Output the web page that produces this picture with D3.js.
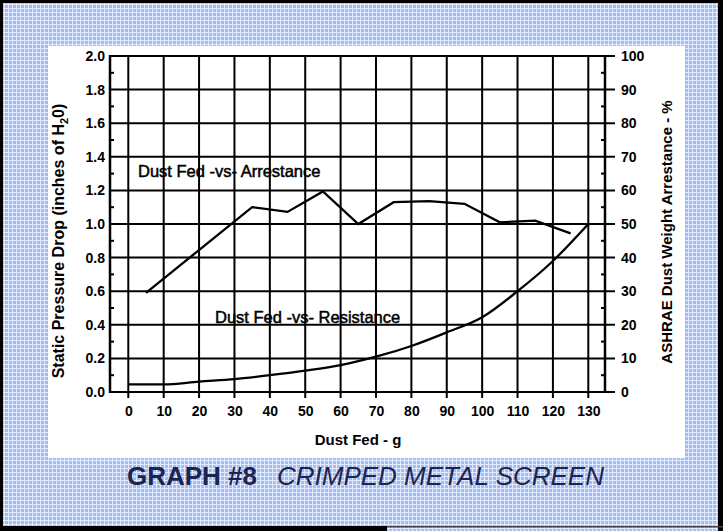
<!DOCTYPE html>
<html>
<head>
<meta charset="utf-8">
<script src="https://cdn.jsdelivr.net/npm/d3@7"></script>
<style>
  html, body { margin: 0; padding: 0; background: #fff; }
  svg { display: block; font-family: "Liberation Sans", Arial, sans-serif; }
</style>
</head>
<body>
<div id="chart"></div>
<script>
// data
const xTicks = [0, 10, 20, 30, 40, 50, 60, 70, 80, 90, 100, 110, 120, 130];
const leftTicks = [0, 0.2, 0.4, 0.6, 0.8, 1.0, 1.2, 1.4, 1.6, 1.8, 2.0];
const rightTicks = [0, 10, 20, 30, 40, 50, 60, 70, 80, 90, 100];

const resistanceFed = [0, 10, 20, 30, 40, 50, 60, 70, 80, 90, 100, 110, 120, 130];
const resistanceVals = [0.045, 0.045, 0.062, 0.077, 0.10, 0.127, 0.16, 0.21, 0.274, 0.355, 0.445, 0.60, 0.78, 1.0];

const arrestanceFed = [5, 35, 45, 55, 65, 75, 85, 95, 105, 115, 125];
const arrestanceVals = [29.5, 55, 53.6, 59.7, 50, 56.5, 56.8, 56, 50.5, 51, 47.2];

const W = 723, H = 531;
const plot = {left: 110, right: 605, top: 56, bottom: 392};

const svg = d3.select("#chart").append("svg")
    .attr("width", W)
    .attr("height", H);

// blue screened backdrop
const pat = svg.append("defs").append("pattern")
    .attr("id", "screen")
    .attr("width", 4).attr("height", 4)
    .attr("patternUnits", "userSpaceOnUse");
pat.append("rect").attr("width", 4).attr("height", 4).attr("fill", "#a4bcf5");
pat.append("rect").attr("width", 4).attr("height", 1).attr("fill", "#e2eafd");
pat.append("rect").attr("width", 1).attr("height", 4).attr("fill", "#e2eafd");

svg.append("rect").attr("width", W).attr("height", H).attr("fill", "url(#screen)");

// black frame edges
svg.append("rect").attr("x", 0).attr("y", 0).attr("width", W).attr("height", 3).attr("fill", "#000");
svg.append("rect").attr("x", 0).attr("y", 0).attr("width", 3).attr("height", H).attr("fill", "#000");
svg.append("rect").attr("x", 718).attr("y", 0).attr("width", 5).attr("height", H).attr("fill", "#000");
svg.append("rect").attr("x", 0).attr("y", 526).attr("width", 387).attr("height", 5).attr("fill", "#000");
svg.append("rect").attr("x", 387).attr("y", 526).attr("width", 336).attr("height", 1.5).attr("fill", "#444");

// white sheet
svg.append("rect")
    .attr("x", 48).attr("y", 46)
    .attr("width", 637).attr("height", 412)
    .attr("fill", "#fff");

const x = d3.scaleLinear().domain([0, 130]).range([128.3, 588.3]);
const yL = d3.scaleLinear().domain([0, 2]).range([plot.bottom, plot.top]);
const yR = d3.scaleLinear().domain([0, 100]).range([plot.bottom, plot.top]);

const g = svg.append("g");

// grid
g.selectAll(".vgrid")
    .data(xTicks)
    .join("line")
    .attr("class", "vgrid")
    .attr("x1", d => x(d)).attr("x2", d => x(d))
    .attr("y1", plot.top).attr("y2", plot.bottom + 6)
    .attr("stroke", "#000").attr("stroke-width", 2);

g.selectAll(".hgrid")
    .data(leftTicks)
    .join("line")
    .attr("class", "hgrid")
    .attr("x1", plot.left).attr("x2", plot.right + 10)
    .attr("y1", d => yL(d)).attr("y2", d => yL(d))
    .attr("stroke", "#000").attr("stroke-width", 2);

// minor ticks inside both side axes
const minors = leftTicks.slice(0, -1).map(d => d + 0.1);
g.selectAll(".minL")
    .data(minors)
    .join("line")
    .attr("class", "minL")
    .attr("x1", plot.left).attr("x2", plot.left + 4)
    .attr("y1", d => yL(d)).attr("y2", d => yL(d))
    .attr("stroke", "#000").attr("stroke-width", 2);
g.selectAll(".minR")
    .data(minors)
    .join("line")
    .attr("class", "minR")
    .attr("x1", plot.right - 4).attr("x2", plot.right)
    .attr("y1", d => yL(d)).attr("y2", d => yL(d))
    .attr("stroke", "#000").attr("stroke-width", 2);

// axis lines
g.append("line")
    .attr("x1", plot.left).attr("x2", plot.left)
    .attr("y1", plot.top - 1).attr("y2", plot.bottom + 1)
    .attr("stroke", "#000").attr("stroke-width", 2.5);
g.append("line")
    .attr("x1", plot.right).attr("x2", plot.right)
    .attr("y1", plot.top - 1).attr("y2", plot.bottom + 1)
    .attr("stroke", "#000").attr("stroke-width", 2.5);

// tick labels via d3 axes (no lines, the grid covers them)
const styleAxis = sel => {
    sel.select(".domain").remove();
    sel.selectAll("line").remove();
    sel.selectAll("text")
        .attr("fill", "#000")
        .style("font-size", "14px")
        .style("font-weight", "bold");
};

svg.append("g")
    .attr("transform", `translate(0,${plot.bottom})`)
    .call(d3.axisBottom(x).tickValues(xTicks).tickSize(6).tickPadding(8).tickFormat(d3.format("d")))
    .call(styleAxis);

svg.append("g")
    .attr("transform", `translate(${plot.left},0)`)
    .call(d3.axisLeft(yL).tickValues(leftTicks).tickSize(0).tickPadding(5).tickFormat(d3.format(".1f")))
    .call(styleAxis);

svg.append("g")
    .attr("transform", `translate(${plot.right},0)`)
    .call(d3.axisRight(yR).tickValues(rightTicks).tickSize(10).tickPadding(6).tickFormat(d3.format("d")))
    .call(styleAxis);

// curves
const resistance = resistanceFed.map((d, i) => [d, resistanceVals[i]]);
const arrestance = arrestanceFed.map((d, i) => [d, arrestanceVals[i]]);

g.append("path")
    .datum(resistance)
    .attr("fill", "none").attr("stroke", "#000").attr("stroke-width", 2.3)
    .attr("d", d3.line().x(d => x(d[0])).y(d => yL(d[1])).curve(d3.curveMonotoneX));

g.append("path")
    .datum(arrestance)
    .attr("fill", "none").attr("stroke", "#000").attr("stroke-width", 2.3)
    .attr("stroke-linejoin", "miter")
    .attr("d", d3.line().x(d => x(d[0])).y(d => yR(d[1])));

// in-plot notes
svg.selectAll(".note")
    .data([
        {x: 138, y: 177, t: "Dust Fed -vs- Arrestance"},
        {x: 215, y: 323, t: "Dust Fed -vs- Resistance"}
    ])
    .join("text")
    .attr("class", "note")
    .attr("x", d => d.x).attr("y", d => d.y)
    .attr("stroke", "#000").attr("stroke-width", 0.5)
    .style("font-size", "16.5px")
    .text(d => d.t);

// axis titles
svg.append("text")
    .attr("x", 358).attr("y", 445)
    .attr("text-anchor", "middle")
    .style("font-size", "15px").style("font-weight", "bold")
    .text("Dust Fed - g");

const yTitle = svg.append("text")
    .attr("transform", "translate(64,241) rotate(-90)")
    .attr("text-anchor", "middle")
    .style("font-size", "16px").style("font-weight", "bold");
yTitle.append("tspan").text("Static Pressure Drop (inches of H");
yTitle.append("tspan").attr("dy", 4).style("font-size", "11px").text("2");
yTitle.append("tspan").attr("dy", -4).text("0)");

svg.append("text")
    .attr("transform", "translate(672,232) rotate(-90)")
    .attr("text-anchor", "middle")
    .style("font-size", "15px").style("font-weight", "bold")
    .text("ASHRAE Dust Weight Arrestance - %");

// caption
const cap = svg.append("text")
    .attr("x", 127).attr("y", 485)
    .attr("fill", "#1b2552")
    .style("font-size", "26px");
cap.append("tspan").style("font-weight", "bold").text("GRAPH #8");
cap.append("tspan").attr("x", 277).style("font-style", "italic").text("CRIMPED METAL SCREEN");
</script>
</body>
</html>
